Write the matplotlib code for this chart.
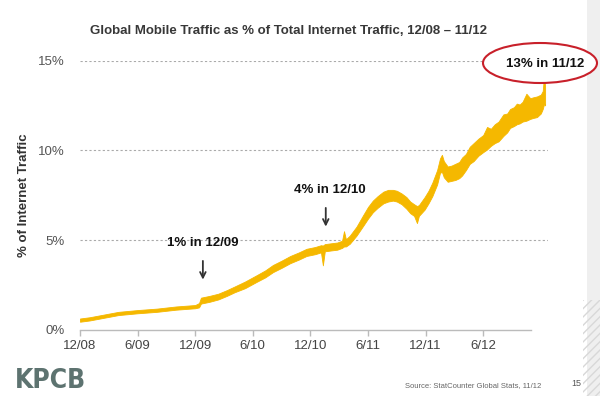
import matplotlib
matplotlib.use("Agg")
import matplotlib.pyplot as plt
from matplotlib.patches import Ellipse, Rectangle
from matplotlib import font_manager
import numpy as np

plt.rcParams['font.family'] = ['Liberation Sans', 'DejaVu Sans']

# months since 12/08, with lower / upper edge of the daily-noise band (% of traffic)
months = [0, 1, 2, 3, 4, 5, 6, 7, 8, 9, 10, 11, 12, 12.4, 12.6, 13.5, 14.4, 15.3,
          16.1, 17.2, 18.4, 19.3, 20.1, 21.0, 21.9, 22.8, 23.6, 24.5, 25.1, 25.3,
          25.5, 26.2, 26.8, 27.3, 27.5, 27.7, 28.1, 28.8, 29.5, 30.0, 30.5, 31.0,
          31.6, 32.1, 32.6, 33.0, 33.5, 34.0, 34.4, 34.8, 35.1, 35.3, 35.9, 36.3,
          36.7, 37.2, 37.5, 37.7, 37.9, 38.3, 38.7, 39.1, 39.5, 39.8, 40.2, 40.6,
          41.0, 41.5, 42.0, 42.4, 42.8, 43.2, 43.6, 44.1, 44.5, 44.8, 45.2, 45.5,
          45.8, 46.1, 46.5, 46.9, 47.2, 47.6, 48.0, 48.2, 48.35, 48.45]
share_low = [0.46, 0.53, 0.63, 0.73, 0.83, 0.88, 0.93, 0.97, 1.01, 1.07, 1.13, 1.17,
             1.21, 1.26, 1.47, 1.57, 1.70, 1.90, 2.10, 2.33, 2.68, 2.93, 3.22, 3.46,
             3.72, 3.92, 4.12, 4.22, 4.32, 3.60, 4.38, 4.43, 4.47, 4.57, 4.65, 4.65,
             4.80, 5.25, 5.80, 6.20, 6.55, 6.80, 7.05, 7.15, 7.20, 7.15, 7.00, 6.75,
             6.50, 6.35, 5.95, 6.35, 6.70, 7.05, 7.45, 8.10, 8.75, 8.80, 8.50, 8.25,
             8.30, 8.35, 8.45, 8.60, 8.90, 9.25, 9.40, 9.70, 9.90, 10.05, 10.25, 10.40,
             10.50, 10.80, 11.00, 11.25, 11.35, 11.45, 11.50, 11.60, 11.65, 11.75,
             11.80, 11.85, 12.05, 12.30, 12.60, 12.50]
share_high = [0.64, 0.71, 0.81, 0.91, 1.01, 1.06, 1.11, 1.15, 1.19, 1.25, 1.31, 1.35,
              1.39, 1.50, 1.80, 1.90, 2.02, 2.22, 2.42, 2.70, 3.05, 3.32, 3.62, 3.86,
              4.12, 4.32, 4.52, 4.62, 4.72, 4.70, 4.78, 4.83, 4.87, 4.97, 5.50, 5.05,
              5.25, 5.75, 6.40, 6.85, 7.20, 7.45, 7.70, 7.80, 7.80, 7.75, 7.60, 7.40,
              7.15, 7.00, 6.90, 6.95, 7.40, 7.75, 8.20, 8.90, 9.55, 9.75, 9.40, 9.10,
              9.15, 9.25, 9.35, 9.60, 9.80, 10.20, 10.40, 10.65, 10.85, 11.30, 11.20,
              11.45, 11.60, 12.00, 12.05, 12.30, 12.40, 12.60, 12.55, 12.70, 13.15,
              12.90, 12.95, 13.00, 13.10, 13.30, 14.20, 13.50]

xtick_pos = [0, 6, 12, 18, 24, 30, 36, 42]
xtick_labels = ['12/08', '6/09', '12/09', '6/10', '12/10', '6/11', '12/11', '6/12']
ytick_pos = [0, 5, 10, 15]
ytick_labels = ['0%', '5%', '10%', '15%']

# look for an installed condensed / narrow bold face for the logo
logo_font = None
for f in font_manager.fontManager.ttflist:
    nm = f.name.lower()
    if ('condensed' in nm or 'narrow' in nm or str(f.stretch) in ('condensed', 'semi-condensed', 'extra-condensed')
            or (isinstance(f.stretch, int) and f.stretch < 500)):
        w = f.weight if isinstance(f.weight, int) else (700 if 'bold' in str(f.weight) else 400)
        if w >= 600 and 'italic' not in f.style:
            logo_font = f.fname
            break

fig = plt.figure(figsize=(6, 3.96), dpi=100)
fig.patch.set_facecolor('white')

# right slide edge strip
fig.patches.append(Rectangle((587/600, 0), 13/600, 1, transform=fig.transFigure,
                             facecolor='#efefef', edgecolor='none', zorder=0))
fig.patches.append(Rectangle((583/600, 0), 17/600, 96/396, transform=fig.transFigure,
                             facecolor='none', edgecolor='#d8d8d8', hatch='////',
                             linewidth=0, zorder=0))

ax = fig.add_axes([80/600, 1 - 330/396, 468/600, 269.5/396])
ax.set_xlim(0, 48.75)
ax.set_ylim(0, 15)

ax.fill_between(months, share_low, share_high, color='#F5B800', linewidth=0.6,
                edgecolor='#F5B800', zorder=3)

for sp in ['top', 'right', 'left']:
    ax.spines[sp].set_visible(False)
ax.spines['bottom'].set_color('#bbbbbb')
ax.spines['bottom'].set_bounds(0, 47)
ax.spines['bottom'].set_linewidth(1.0)

ax.set_xticks(xtick_pos)
ax.set_xticklabels(xtick_labels)
ax.set_yticks(ytick_pos)
ax.set_yticklabels(ytick_labels)
ax.tick_params(axis='x', colors='#bbbbbb', length=4, width=1, labelcolor='#444444',
               labelsize=9.5, pad=3)
ax.tick_params(axis='y', length=0, labelcolor='#555555', labelsize=9.5, pad=11)

for yv in [5, 10, 15]:
    ax.axhline(yv, color='#aaaaaa', linewidth=0.8, linestyle=(0, (2, 2)), zorder=1)

ax.set_ylabel('% of Internet Traffic', fontsize=9.5, fontweight='bold',
              color='#333333', labelpad=6)

fig.text(289/600, 1 - 31/396, 'Global Mobile Traffic as % of Total Internet Traffic, 12/08 \u2013 11/12',
         ha='center', va='center', fontsize=9.5, fontweight='bold', color='#383838')

# annotations
ax.text(12.8, 4.85, '1% in 12/09', ha='center', va='center', fontsize=9.5,
        fontweight='bold', color='#111111')
ax.annotate('', xy=(12.8, 2.65), xytext=(12.8, 4.0),
            arrowprops=dict(arrowstyle='->', color='#333333', lw=1.3))
ax.text(26.0, 7.8, '4% in 12/10', ha='center', va='center', fontsize=9.5,
        fontweight='bold', color='#111111')
ax.annotate('', xy=(25.6, 5.6), xytext=(25.6, 6.95),
            arrowprops=dict(arrowstyle='->', color='#333333', lw=1.3))

ell = Ellipse((540/600, 1 - 63/396), 114/600, 40/396, transform=fig.transFigure,
              facecolor='white', edgecolor='#c8202a', linewidth=1.5, zorder=2)
fig.patches.append(ell)
fig.text(545/600, 1 - 64/396, '13% in 11/12', ha='center', va='center', fontsize=9.5,
         fontweight='bold', color='#111111', zorder=5)

if logo_font is not None:
    fig.text(15/600, 1 - 381.5/396, 'KPCB', ha='left', va='center', color='#5d7370',
             fontproperties=font_manager.FontProperties(fname=logo_font, size=19))
else:
    fig.text(15/600, 1 - 381.5/396, 'KPCB', ha='left', va='center', fontsize=15,
             fontweight='bold', family='DejaVu Sans', color='#5d7370')
fig.text(405/600, 1 - 386/396, 'Source: StatCounter Global Stats, 11/12', ha='left',
         va='center', fontsize=5.5, color='#666666')
fig.text(576/600, 1 - 383/396, '15', ha='center', va='center', fontsize=6.5,
         color='#555555')

fig.savefig('out.png', dpi=100)
